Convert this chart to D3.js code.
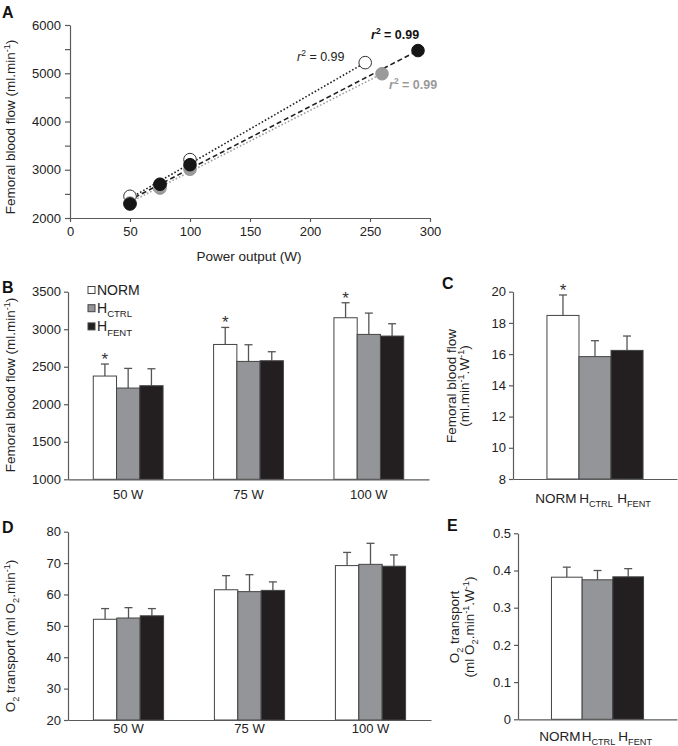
<!DOCTYPE html>
<html><head><meta charset="utf-8">
<script src="https://cdn.jsdelivr.net/npm/d3@7"></script>
<style>
body{margin:0;background:#fff;}
svg{display:block;font-family:"Liberation Sans",Arial,sans-serif;}
.axis path,.axis line{stroke:#5a5a5a;stroke-width:1.2;}
.axis text{fill:#222;font-size:13px;font-family:"Liberation Sans",Arial,sans-serif;}
</style></head>
<body>
<svg id="c" width="678" height="746"></svg>
<script>
// ---------- DATA ----------
// Panel A: femoral blood flow vs power output
const powerNorm = [50, 75, 100, 246];
const flowNorm  = [2450, 2690, 3210, 5220];
const powerCtrl = [50, 75, 100, 260];
const flowCtrl  = [2310, 2620, 3010, 4990];
const powerFent = [50, 75, 100, 290];
const flowFent  = [2290, 2700, 3105, 5470];
// regression line end points
const fitNorm = [[48, 2380], [246, 5220]];
const fitCtrl = [[48, 2300], [260, 4990]];
const fitFent = [[48, 2350], [290, 5470]];
const r2Text = "0.99";
const aXTicks = [0, 50, 100, 150, 200, 250, 300];
const aYTicks = [2000, 2500, 3000, 3500, 4000, 4500, 5000, 5500, 6000];

// groups/series for bars
const groups = ["50 W", "75 W", "100 W"];
const series = ["NORM", "HCTRL", "HFENT"];
const seriesColors = ["#ffffff", "#939598", "#231f20"];

// Panel B: femoral blood flow (ml.min-1)
const bNorm = [2376, 2797, 3153], bNormErr = [160, 227, 200];
const bCtrl = [2216, 2571, 2931], bCtrlErr = [262, 222, 284];
const bFent = [2247, 2580, 2909], bFentErr = [226, 120, 164];
const bSig  = [true, true, true];
const bYTicks = [1000, 1500, 2000, 2500, 3000, 3500];

// Panel C: femoral blood flow per W
const cVals = [18.48, 15.84, 16.24], cErr = [1.31, 1.02, 0.92];
const cSig = [true, false, false];
const cYTicks = [8, 10, 12, 14, 16, 18, 20];

// Panel D: O2 transport (ml O2.min-1)
const dNorm = [52.1, 61.5, 69.2], dNormErr = [3.4, 4.5, 4.2];
const dCtrl = [52.5, 60.9, 69.6], dCtrlErr = [3.3, 5.4, 6.7];
const dFent = [53.2, 61.3, 69.0], dFentErr = [2.3, 2.7, 3.6];
const dYTicks = [20, 30, 40, 50, 60, 70, 80];

// Panel E: O2 transport per W
const eVals = [0.382, 0.375, 0.383], eErr = [0.027, 0.025, 0.022];
const eYTicks = [0, 0.1, 0.2, 0.3, 0.4, 0.5];

// ---------- HELPERS ----------
const svg = d3.select("#c");
const subLabel = {NORM: ["NORM", ""], HCTRL: ["H", "CTRL"], HFENT: ["H", "FENT"]};

function richText(g, parts, size) {
  // parts: [{t, type:'n'|'sub'|'sup', italic, bold}]
  let shift = 0;
  parts.forEach(p => {
    let target = p.type === "sub" ? size * 0.3 : p.type === "sup" ? -size * 0.38 : 0;
    const ts = g.append("tspan").text(p.t).attr("dy", target - shift);
    shift = target;
    if (p.type !== "n") ts.attr("font-size", size * 0.68);
    if (p.italic) ts.attr("font-style", "italic");
    if (p.bold) ts.attr("font-weight", "bold");
  });
}

function panelLabel(t, x, y) {
  svg.append("text").attr("x", x).attr("y", y).text(t)
    .attr("font-size", 16).attr("font-weight", "bold").attr("fill", "#111");
}

function yTitle(lines, x, y, size) {
  lines.forEach((parts, i) => {
    const t = svg.append("text")
      .attr("transform", `translate(${x[i]},${y}) rotate(-90)`)
      .attr("text-anchor", "middle").attr("font-size", size).attr("fill", "#222");
    richText(t, parts, size);
  });
}

function seriesLabel(sel, key, size) {
  const [b, s] = subLabel[key];
  sel.append("tspan").text(b);
  if (s) sel.append("tspan").text(s).attr("font-size", size * 0.68).attr("dy", size * 0.3);
}

// ---------- PANEL A ----------
const xA = d3.scaleLinear().domain([0, 300]).range([70, 430]);
const yA = d3.scaleLinear().domain([2000, 6000]).range([218, 25]);
svg.append("g").attr("class", "axis").attr("transform", "translate(0,218)")
  .call(d3.axisBottom(xA).tickValues(aXTicks).tickSize(4).tickPadding(5).tickSizeOuter(0))
  .selectAll("text").attr("font-size", 13.5);
svg.append("g").attr("class", "axis").attr("transform", "translate(70,0)")
  .call(d3.axisLeft(yA).tickValues(aYTicks).tickSize(5).tickPadding(4).tickSizeOuter(0)
    .tickFormat(d => d % 1000 === 0 ? d : ""))
  .selectAll("text").attr("font-size", 13.5);

const lineA = d3.line().x(d => xA(d[0])).y(d => yA(d[1]));
svg.append("path").attr("d", lineA(fitNorm)).attr("fill", "none")
  .attr("stroke", "#222").attr("stroke-width", 1.6).attr("stroke-dasharray", "1.6,2");
svg.append("path").attr("d", lineA(fitCtrl)).attr("fill", "none")
  .attr("stroke", "#a0a0a0").attr("stroke-width", 1.6).attr("stroke-dasharray", "1.6,2");
svg.append("path").attr("d", lineA(fitFent)).attr("fill", "none")
  .attr("stroke", "#222").attr("stroke-width", 1.6).attr("stroke-dasharray", "5,3");

const ptsA = [
  {p: powerNorm, f: flowNorm, fill: "#fff", stroke: "#333"},
  {p: powerCtrl, f: flowCtrl, fill: "#9a9a9a", stroke: "#9a9a9a"},
  {p: powerFent, f: flowFent, fill: "#161616", stroke: "#161616"}
];
ptsA.forEach(s => {
  svg.append("g").selectAll("circle").data(s.p.map((p, i) => [p, s.f[i]])).join("circle")
    .attr("cx", d => xA(d[0])).attr("cy", d => yA(d[1])).attr("r", 6.3)
    .attr("fill", s.fill).attr("stroke", s.stroke).attr("stroke-width", 1);
});

function r2Label(x, y, bold, color) {
  const t = svg.append("text").attr("x", x).attr("y", y).attr("font-size", 12.5).attr("fill", color);
  richText(t, [{t: "r", type: "n", italic: true, bold}, {t: "2", type: "sup", bold},
    {t: " = " + r2Text, type: "n", bold}], 12.5);
}
r2Label(297, 61, false, "#222");
r2Label(371, 39, true, "#111");
r2Label(389, 89, true, "#9a9a9a");

svg.append("text").attr("x", 249).attr("y", 261).attr("text-anchor", "middle")
  .attr("font-size", 13.5).attr("fill", "#222").text("Power output (W)");
yTitle([[{t: "Femoral blood flow (ml.min", type: "n"}, {t: "-1", type: "sup"}, {t: ")", type: "n"}]],
  [15], 127, 13.5);
panelLabel("A", 2, 18);

// ---------- grouped bar helper ----------
function groupedBars(cfg) {
  const x0 = d3.scaleBand().domain(groups).range(cfg.xr).paddingInner(0.42).paddingOuter(0.21);
  const x1 = d3.scaleBand().domain(series).range([0, x0.bandwidth()]);
  const y = d3.scaleLinear().domain(cfg.yd).range(cfg.yr);
  const data = [];
  groups.forEach((g, gi) => series.forEach((s, si) => {
    data.push({g, s, si, v: cfg.vals[si][gi], e: cfg.errs[si][gi], sig: si === 0 && cfg.sig && cfg.sig[gi]});
  }));
  const gBars = svg.append("g");
  gBars.selectAll("line.err").data(data).join("line").attr("class", "err")
    .attr("x1", d => x0(d.g) + x1(d.s) + x1.bandwidth() / 2)
    .attr("x2", d => x0(d.g) + x1(d.s) + x1.bandwidth() / 2)
    .attr("y1", d => y(d.v)).attr("y2", d => y(d.v + d.e))
    .attr("stroke", "#555").attr("stroke-width", 1.3);
  gBars.selectAll("line.cap").data(data).join("line").attr("class", "cap")
    .attr("x1", d => x0(d.g) + x1(d.s) + x1.bandwidth() / 2 - 4)
    .attr("x2", d => x0(d.g) + x1(d.s) + x1.bandwidth() / 2 + 4)
    .attr("y1", d => y(d.v + d.e)).attr("y2", d => y(d.v + d.e))
    .attr("stroke", "#555").attr("stroke-width", 1.3);
  gBars.selectAll("rect").data(data).join("rect")
    .attr("x", d => x0(d.g) + x1(d.s)).attr("width", x1.bandwidth())
    .attr("y", d => y(d.v)).attr("height", d => y(cfg.yd[0]) - y(d.v))
    .attr("fill", d => seriesColors[d.si]).attr("stroke", "#444").attr("stroke-width", 1);
  gBars.selectAll("text.star").data(data.filter(d => d.sig)).join("text").attr("class", "star")
    .attr("x", d => x0(d.g) + x1(d.s) + x1.bandwidth() / 2)
    .attr("y", d => y(d.v + d.e) + 1).attr("text-anchor", "middle")
    .attr("font-size", 17).attr("fill", "#333").text("*");
  svg.append("g").attr("class", "axis").attr("transform", `translate(0,${cfg.yr[0]})`)
    .call(d3.axisBottom(x0).tickSize(0).tickPadding(cfg.xpad).tickSizeOuter(0))
    .selectAll("text").attr("font-size", 13.5);
  svg.append("g").attr("class", "axis").attr("transform", `translate(${cfg.xr[0]},0)`)
    .call(d3.axisLeft(y).tickValues(cfg.ticks).tickSize(4).tickPadding(3).tickSizeOuter(0).tickFormat(d3.format("")))
    .selectAll("text").attr("font-size", 13.5);
  return {x0, x1, y};
}

function singleBars(cfg) {
  const x = d3.scaleBand().domain(series).range(cfg.xr).paddingInner(0).paddingOuter(cfg.po);
  const y = d3.scaleLinear().domain(cfg.yd).range(cfg.yr);
  const data = series.map((s, i) => ({s, i, v: cfg.vals[i], e: cfg.errs[i], sig: cfg.sig && cfg.sig[i]}));
  const g = svg.append("g");
  const cx = d => x(d.s) + x.bandwidth() / 2;
  g.selectAll("line.err").data(data).join("line").attr("class", "err")
    .attr("x1", cx).attr("x2", cx).attr("y1", d => y(d.v)).attr("y2", d => y(d.v + d.e))
    .attr("stroke", "#555").attr("stroke-width", 1.3);
  g.selectAll("line.cap").data(data).join("line").attr("class", "cap")
    .attr("x1", d => cx(d) - 4).attr("x2", d => cx(d) + 4)
    .attr("y1", d => y(d.v + d.e)).attr("y2", d => y(d.v + d.e))
    .attr("stroke", "#555").attr("stroke-width", 1.3);
  g.selectAll("rect").data(data).join("rect")
    .attr("x", d => x(d.s)).attr("width", x.bandwidth())
    .attr("y", d => y(d.v)).attr("height", d => y(cfg.yd[0]) - y(d.v))
    .attr("fill", d => seriesColors[d.i]).attr("stroke", "#444").attr("stroke-width", 1);
  g.selectAll("text.star").data(data.filter(d => d.sig)).join("text").attr("class", "star")
    .attr("x", cx).attr("y", d => y(d.v + d.e) + 1).attr("text-anchor", "middle")
    .attr("font-size", 17).attr("fill", "#333").text("*");
  // x axis line
  svg.append("g").attr("class", "axis").attr("transform", `translate(0,${cfg.yr[0]})`)
    .call(d3.axisBottom(x).tickSize(0).tickFormat("").tickSizeOuter(0));
  const offs = [-7, 1, 7];
  const lab = svg.append("g");
  data.forEach((d, i) => {
    const t = lab.append("text").attr("x", cx(d) + offs[i]).attr("y", cfg.yr[0] + cfg.labY)
      .attr("text-anchor", "middle").attr("font-size", 13.5).attr("fill", "#222");
    seriesLabel(t, d.s, 13.5);
  });
  svg.append("g").attr("class", "axis").attr("transform", `translate(${cfg.xr[0]},0)`)
    .call(d3.axisLeft(y).tickValues(cfg.ticks).tickSize(4).tickPadding(3).tickSizeOuter(0).tickFormat(cfg.fmt || d3.format("")))
    .selectAll("text").attr("font-size", 13.5);
}

// ---------- PANEL B ----------
groupedBars({xr: [68, 429], yd: [1000, 3500], yr: [479.3, 291.7],
  vals: [bNorm, bCtrl, bFent], errs: [bNormErr, bCtrlErr, bFentErr], sig: bSig,
  ticks: bYTicks, xpad: 10});
yTitle([[{t: "Femoral blood flow (ml.min", type: "n"}, {t: "-1", type: "sup"}, {t: ")", type: "n"}]],
  [15], 385, 13.5);
panelLabel("B", 2, 293);
// legend
const leg = svg.append("g");
series.forEach((s, i) => {
  leg.append("rect").attr("x", 88).attr("y", 290 + i * 18.2 - 3.5).attr("width", 7).attr("height", 7)
    .attr("fill", seriesColors[i]).attr("stroke", "#444").attr("stroke-width", 1);
  const t = leg.append("text").attr("x", 97).attr("y", 290 + i * 18.2 + 5)
    .attr("font-size", 14).attr("fill", "#222");
  seriesLabel(t, s, 14);
});

// ---------- PANEL C ----------
singleBars({xr: [513, 677], po: 1.06, yd: [8, 20], yr: [479, 291.7],
  vals: cVals, errs: cErr, sig: cSig, ticks: cYTicks, labY: 24});
yTitle([[{t: "Femoral blood flow", type: "n"}],
  [{t: "(ml.min", type: "n"}, {t: "-1", type: "sup"}, {t: ".W", type: "n"}, {t: "-1", type: "sup"}, {t: ")", type: "n"}]],
  [456, 469], 386, 13.5);
panelLabel("C", 442, 289);

// ---------- PANEL D ----------
groupedBars({xr: [68, 431], yd: [20, 80], yr: [720, 531.7],
  vals: [dNorm, dCtrl, dFent], errs: [dNormErr, dCtrlErr, dFentErr], sig: null,
  ticks: dYTicks, xpad: 4});
yTitle([[{t: "O", type: "n"}, {t: "2", type: "sub"}, {t: " transport (ml O", type: "n"}, {t: "2", type: "sub"},
  {t: ".min", type: "n"}, {t: "-1", type: "sup"}, {t: ")", type: "n"}]], [15], 636, 13.5);
panelLabel("D", 2, 533);

// ---------- PANEL E ----------
singleBars({xr: [518, 677], po: 1.09, yd: [0, 0.5], yr: [719.3, 533.3],
  vals: eVals, errs: eErr, sig: null, ticks: eYTicks, labY: 22,
  fmt: d => d === 0 ? "0" : d3.format(".1f")(d)});
yTitle([[{t: "O", type: "n"}, {t: "2", type: "sub"}, {t: " transport", type: "n"}],
  [{t: "(ml O", type: "n"}, {t: "2", type: "sub"}, {t: ".min", type: "n"}, {t: "-1", type: "sup"},
   {t: ".W", type: "n"}, {t: "-1", type: "sup"}, {t: ")", type: "n"}]], [459, 474], 627, 13.5);
panelLabel("E", 447, 531);
</script>
</body></html>
